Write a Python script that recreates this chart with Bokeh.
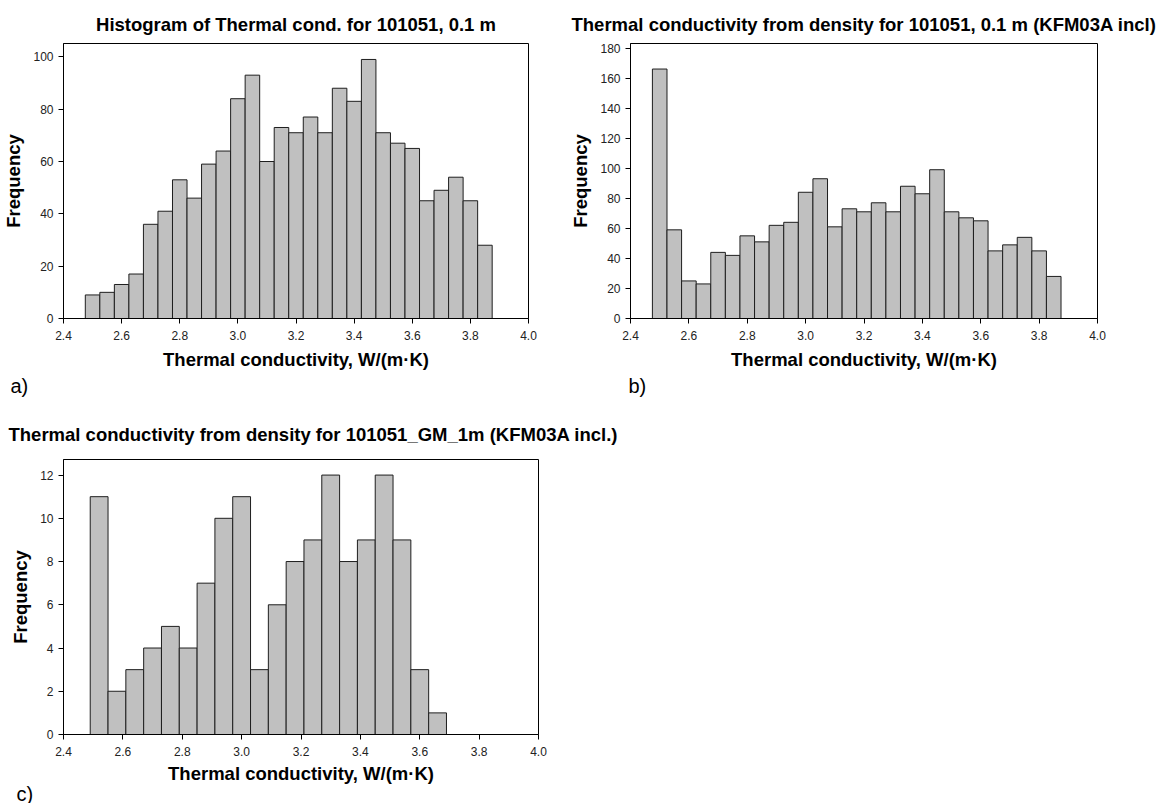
import numpy as np
from bokeh.plotting import figure
from bokeh.layouts import column, row
from bokeh.models import Range1d, FixedTicker, PrintfTickFormatter, Title
from bokeh.embed import file_html
from bokeh.resources import INLINE

# Counts per bin for each histogram
freq_a = [9, 10, 13, 17, 36, 41, 53, 46, 59, 64, 84, 93, 60, 73, 71, 77, 71,
          88, 83, 99, 71, 67, 65, 45, 49, 54, 45, 28]
freq_b = [166, 59, 25, 23, 44, 42, 55, 51, 62, 64, 84, 93, 61, 73, 71, 77, 71,
          88, 83, 99, 71, 67, 65, 45, 49, 54, 45, 28]
freq_c = [11, 2, 3, 4, 5, 4, 7, 10, 11, 3, 6, 8, 9, 12, 8, 9, 12, 9, 3, 1]

# Bin layout (first left edge, bin width) in W/(m·K)
bins_ab = (2.475, 0.05)
bins_c = (2.49, 0.06)

x_ticks = [2.4, 2.6, 2.8, 3.0, 3.2, 3.4, 3.6, 3.8, 4.0]
y_ticks_a = [0, 20, 40, 60, 80, 100]
y_ticks_b = [0, 20, 40, 60, 80, 100, 120, 140, 160, 180]
y_ticks_c = [0, 2, 4, 6, 8, 10, 12]

title_a = "Histogram of Thermal cond. for 101051, 0.1 m"
title_b = "Thermal conductivity from density for 101051, 0.1 m (KFM03A incl)"
title_c = "Thermal conductivity from density for 101051_GM_1m (KFM03A incl.)"
x_label = "Thermal conductivity, W/(m·K)"
y_label = "Frequency"

FONT = "Liberation Sans"


def histogram(counts, bins, y_max, y_ticks, title, width, height,
              left, right, top, bottom):
    start, step = bins
    edges = start + step * np.arange(len(counts))
    p = figure(width=width, height=height, output_backend="svg",
               toolbar_location=None,
               x_range=Range1d(2.4, 4.0), y_range=Range1d(0, y_max),
               min_border_left=left, min_border_right=right,
               min_border_top=top, min_border_bottom=bottom,
               background_fill_color="white", border_fill_color="white",
               outline_line_color="black", outline_line_width=1,
               title=title)
    p.quad(left=edges, right=edges + step, bottom=0, top=counts,
           fill_color="#c0c0c0", line_color="#1e1e1e", line_width=1)

    p.grid.visible = False
    p.xaxis.ticker = FixedTicker(ticks=x_ticks)
    p.xaxis.formatter = PrintfTickFormatter(format="%.1f")
    p.yaxis.ticker = FixedTicker(ticks=y_ticks)
    for ax in (p.xaxis, p.yaxis):
        ax.axis_line_color = "black"
        ax.major_tick_line_color = "black"
        ax.major_tick_out = 5
        ax.major_tick_in = 0
        ax.minor_tick_line_color = None
        ax.major_label_text_font = FONT
        ax.major_label_text_font_size = "12px"
        ax.major_label_text_color = "#222222"
        ax.axis_label_text_font = FONT
        ax.axis_label_text_font_size = "18.5px"
        ax.axis_label_text_font_style = "bold"
        ax.axis_label_text_color = "black"
    p.xaxis.axis_label = x_label
    p.xaxis.major_label_standoff = 7
    p.xaxis.axis_label_standoff = 6
    p.yaxis.axis_label = y_label
    p.yaxis.major_label_standoff = 5
    p.yaxis.axis_label_standoff = 6

    p.title.text_font = FONT
    p.title.text_font_size = "18.5px"
    p.title.text_font_style = "bold"
    p.title.text_color = "black"
    p.title.align = "center"
    p.title.standoff = 18
    return p


def panel_tag(p, text, offset, standoff, valign="bottom"):
    p.add_layout(Title(text=text, align="left", offset=offset,
                       standoff=standoff, vertical_align=valign,
                       text_font=FONT, text_font_size="20px",
                       text_font_style="normal", text_color="black"), "below")


pa = histogram(freq_a, bins_ab, 105.1, y_ticks_a, title_a,
               560, 400, 63, 32, 43, 82)
panel_tag(pa, "a)", -53, 0)

pb = histogram(freq_b, bins_ab, 183.0, y_ticks_b, title_b,
               604, 400, 70, 67, 43, 82)
panel_tag(pb, "b)", -2, 0)

pc = histogram(freq_c, bins_c, 12.72, y_ticks_c, title_c,
               1164, 403, 63, 626, 59, 69)
pc.title.align = "left"
pc.title.offset = -55
pc.title.standoff = 30
pc.xaxis.axis_label_standoff = 4
panel_tag(pc, "c)", -47, -8, "top")

layout = column(row(pa, pb, spacing=0), pc, spacing=0)

open("out.html", "w").write(file_html(layout, INLINE))
